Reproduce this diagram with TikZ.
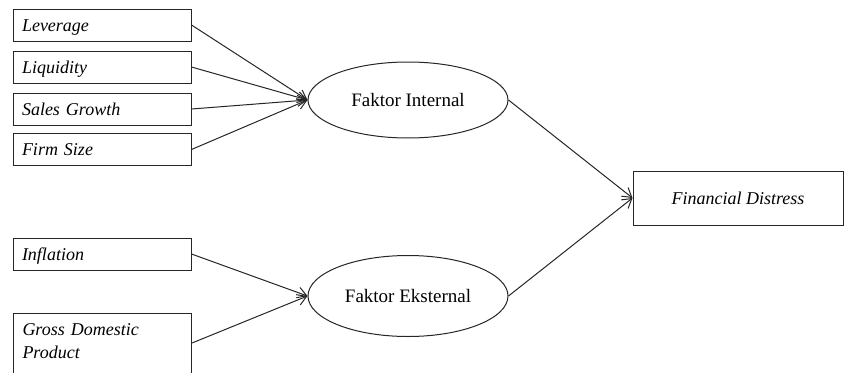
\documentclass[tikz,border=0pt]{standalone}
\usepackage{fontspec}
\setmainfont{Liberation Serif}
\usetikzlibrary{shapes.geometric,arrows.meta}
\tikzset{
  varbox/.style={draw=black!85, line width=1pt, rectangle, minimum width=178pt, minimum height=32pt,
    inner sep=0pt, text width=160pt, align=left, text height=15pt, text depth=3pt,
    font=\fontsize{18}{23}\selectfont\itshape},
  factor/.style={draw=black!85, line width=1pt, ellipse, minimum width=200pt, inner sep=0pt,
    font=\fontsize{19}{22}\selectfont},
  outbox/.style={draw=black!85, line width=1pt, rectangle, minimum width=210pt, minimum height=54pt,
    inner sep=0pt, font=\fontsize{18}{21}\selectfont\itshape},
  arr/.style={draw=black!85, line width=1pt, -{Straight Barb[length=9pt,width=11pt]}}
}
\begin{document}
\begin{tikzpicture}[x=1pt,y=-1pt]
\useasboundingbox (0,0) rectangle (845,372);
\clip (0,0) rectangle (845,372);
\node[varbox] (lev) at (102,25) {Leverage};
\node[varbox] (liq) at (102,67) {Liquidity};
\node[varbox] (sg) at (102,109) {Sales Growth};
\node[varbox] (fs) at (102,149.5) {Firm Size};
\node[varbox] (inf) at (102,254) {Inflation};
\node[varbox, anchor=north west, text height=14pt, text depth=60pt, inner ysep=8pt] (gdp) at (13,313) {Gross Domestic\\Product};
\node[factor, minimum height=76pt] (fi) at (408,100) {Faktor Internal};
\node[factor, minimum height=81pt] (fe) at (408,296) {Faktor Eksternal};
\node[outbox] (fd) at (738,198) {Financial Distress};
\draw[arr] (lev.east) -- (fi.west);
\draw[arr] (liq.east) -- (fi.west);
\draw[arr] (sg.east) -- (fi.west);
\draw[arr] (fs.east) -- (fi.west);
\draw[arr] (inf.east) -- (fe.west);
\draw[arr] ([yshift=-30pt]gdp.north east) -- (fe.west);
\draw[arr] (fi.east) -- (fd.west);
\draw[arr] (fe.east) -- (fd.west);
\end{tikzpicture}
\end{document}
